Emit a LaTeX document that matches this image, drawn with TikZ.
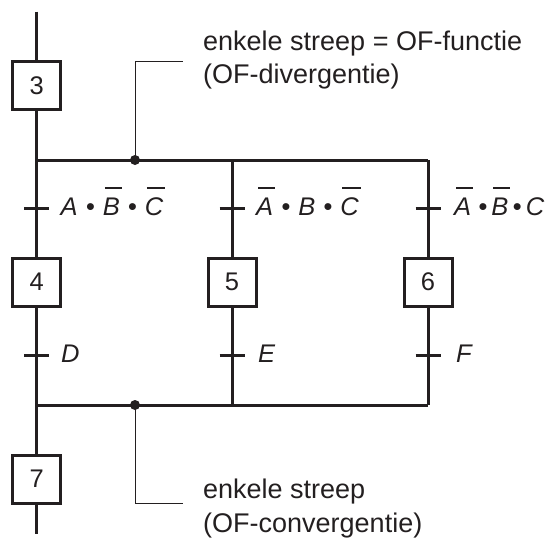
\documentclass[tikz,border=0pt]{standalone}
\usepackage{fontspec}
\setmainfont{Liberation Sans}
\definecolor{ink}{HTML}{231F20}
\newcommand\negt[1]{\leavevmode\setbox0\hbox{#1}%
  \rlap{\kern2pt\raise\dimexpr\ht0+8pt\relax\hbox{\vrule height 2pt depth 0pt width \wd0}}\box0\relax}
\newcommand\dotop{\kern1pt\textbullet\kern1pt}
\begin{document}
\begin{tikzpicture}[x=1pt,y=-1pt,
  line/.style={draw=ink, line width=3pt},
  lead/.style={draw=ink, line width=1pt},
  stepbox/.style={draw=ink, line width=3pt, minimum size=48pt, inner sep=0pt,
    font=\fontsize{25.5}{30}\selectfont, text=ink},
  cond/.style={anchor=base west, inner sep=0pt,
    font=\fontsize{25.5}{30}\selectfont\itshape, text=ink},
  note/.style={anchor=base west, inner sep=0pt,
    font=\fontsize{27}{33}\selectfont, text=ink}]
\useasboundingbox (0,0) rectangle (548,546);

% steps
\node[stepbox] (s3) at (36.7,85.5) {3};
\node[stepbox] (s4) at (36.7,282) {4};
\node[stepbox] (s5) at (232,282) {5};
\node[stepbox] (s6) at (428,282) {6};
\node[stepbox] (s7) at (36.7,479) {7};

% junction coordinates
\coordinate (top) at (36.7,11.5);
\coordinate (bot) at (36.7,534);
\coordinate (dL) at (36.7,160);
\coordinate (dM) at (232,160);
\coordinate (dR) at (428,160);
\coordinate (cL) at (36.7,405);
\coordinate (cM) at (232,405);
\coordinate (cR) at (428,405);
\coordinate (t1) at (36.7,208.3);
\coordinate (t2) at (232,208.3);
\coordinate (t3) at (428,208.3);
\coordinate (t4) at (36.7,355);
\coordinate (t5) at (232,355);
\coordinate (t6) at (428,355);
\coordinate (dot1) at (135,160);
\coordinate (dot2) at (135,405);
\coordinate (l1) at (183,61);
\coordinate (l2) at (183,503);

% main lines
\draw[line] (top) -- (s3.north);
\draw[line] (s3.south) -- (dL);
\draw[line] (dL) -- (dR);
\draw[line] (dL) -- (s4.north);
\draw[line] (dM) -- (s5.north);
\draw[line] (dR) -- (s6.north);
\draw[line] (s4.south) -- (cL);
\draw[line] (s5.south) -- (cM);
\draw[line] (s6.south) -- (cR);
\draw[line] (cL) -- (cR);
\draw[line] (cL) -- (s7.north);
\draw[line] (s7.south) -- (bot);

% transition ticks
\foreach \t in {t1,t2,t3,t4,t5,t6}
  \draw[line] (\t) ++(-12.5,0) -- ++(25,0);

% dots and leaders
\fill[ink] (dot1) circle (5);
\fill[ink] (dot2) circle (5);
\draw[lead] (dot1) |- (l1);
\draw[lead] (dot2) |- (l2);

% transition conditions
\node[cond] (c1) at (60.5,215) {A \dotop\ \negt{B} \dotop\ \negt{C}};
\node[cond] (c2) at (256,215) {\negt{A} \dotop\ B \dotop\ \negt{C}};
\node[cond] (c3) at (454,215) {\negt{A} \textbullet\,\negt{B}\,\textbullet\,C};
\node[cond] (c4) at (61,362) {D};
\node[cond] (c5) at (258,362) {E};
\node[cond] (c6) at (456,362) {F};

% notes
\node[note] (n1) at (203,50) {enkele streep = OF-functie};
\node[note] (n2) at (203,83) {(OF-divergentie)};
\node[note] (n3) at (203,498) {enkele streep};
\node[note] (n4) at (203,532) {(OF-convergentie)};
\end{tikzpicture}
\end{document}
